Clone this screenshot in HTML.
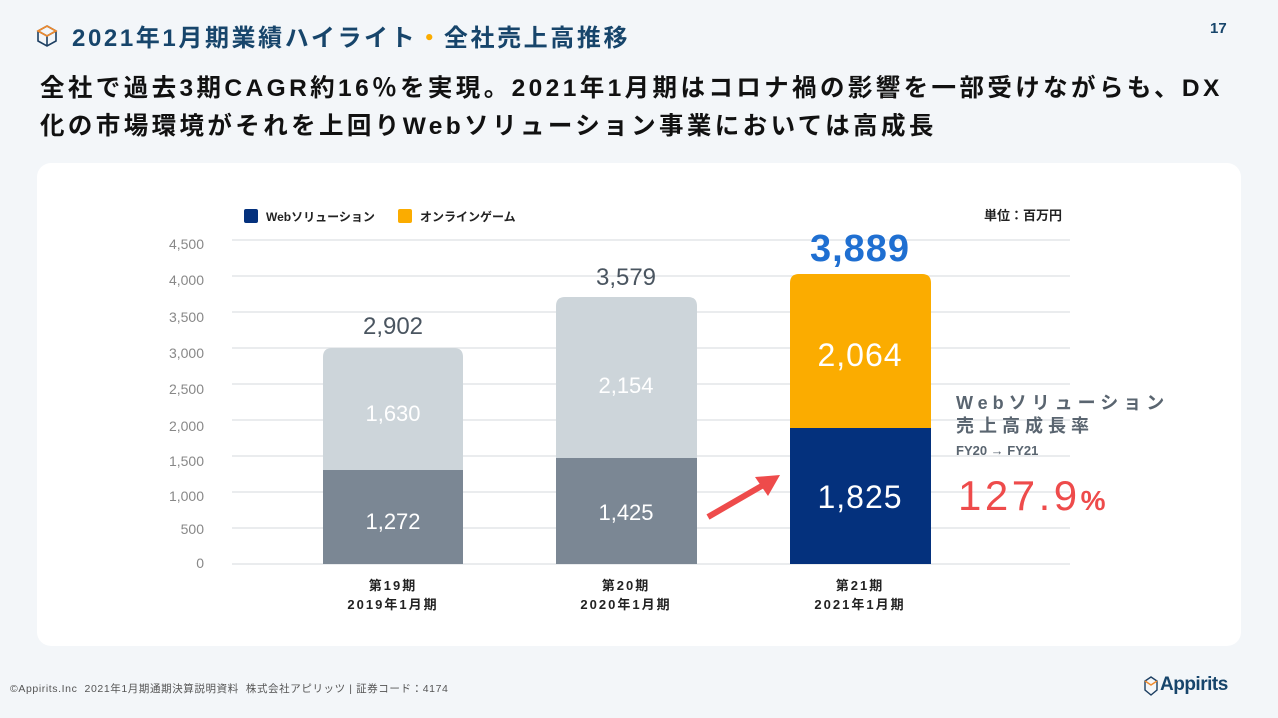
<!DOCTYPE html>
<html><head><meta charset="utf-8"><style>
body{margin:0;width:1278px;height:718px;background:#f3f6f9;font-family:"Liberation Sans","Noto Sans CJK JP",sans-serif;overflow:hidden;position:relative}
.t{position:absolute;white-space:nowrap}
</style></head><body>
<svg class="t" style="left:36px;top:24px" width="22" height="24" viewBox="0 0 22 24"><path d="M11 2 L20 7 L20 17 L11 22 L2 17 L2 7 Z" fill="none" stroke="#1d3f62" stroke-width="1.6"/><path d="M2 7 L11 12 L20 7 M11 12 L11 22" fill="none" stroke="#1d3f62" stroke-width="1.6"/><path d="M2 7 L11 2 L20 7 L11 12 Z" fill="none" stroke="#f08a2c" stroke-width="1.6"/></svg>
<div class="t" style="left:72px;top:18px;font-size:24px;font-weight:bold;color:#17456b;letter-spacing:2.6px">2021年1月期業績ハイライト<span style="color:#fbac00">・</span>全社売上高推移</div>
<div class="t" style="left:1210px;top:20px;font-size:15px;font-weight:bold;color:#17456b">17</div>
<div class="t" style="left:40px;top:70px;font-size:24.5px;font-weight:bold;color:#111;line-height:38px;letter-spacing:3.4px">全社で過去3期CAGR約16％を実現。2021年1月期はコロナ禍の影響を一部受けながらも、DX<br>化の市場環境がそれを上回りWebソリューション事業においては高成長</div>
<div class="t" style="left:37px;top:163px;width:1204px;height:483px;background:#fff;border-radius:14px"></div>
<svg class="t" style="left:0;top:0" width="1278" height="718">
<g stroke="#e3e6e9" stroke-width="1.5">
<line x1="232" x2="1070" y1="240" y2="240"/><line x1="232" x2="1070" y1="276" y2="276"/><line x1="232" x2="1070" y1="312" y2="312"/><line x1="232" x2="1070" y1="348" y2="348"/><line x1="232" x2="1070" y1="384" y2="384"/><line x1="232" x2="1070" y1="420" y2="420"/><line x1="232" x2="1070" y1="456" y2="456"/><line x1="232" x2="1070" y1="492" y2="492"/><line x1="232" x2="1070" y1="528" y2="528"/><line x1="232" x2="1070" y1="564" y2="564"/>
</g>
<g font-size="14" fill="#888" text-anchor="end" font-family="Liberation Sans,sans-serif">
<text x="204" y="249">4,500</text><text x="204" y="285">4,000</text><text x="204" y="322">3,500</text><text x="204" y="358">3,000</text><text x="204" y="394">2,500</text><text x="204" y="431">2,000</text><text x="204" y="466">1,500</text><text x="204" y="501">1,000</text><text x="204" y="534">500</text><text x="204" y="568">0</text>
</g>
<rect x="244" y="209" width="14" height="14" rx="2" fill="#04317d"/>
<text x="266" y="221" font-size="12" font-weight="bold" fill="#222">Webソリューション</text>
<rect x="398" y="209" width="14" height="14" rx="2" fill="#fbac00"/>
<text x="420" y="221" font-size="12" font-weight="bold" fill="#222">オンラインゲーム</text>
<text x="1062" y="220" font-size="13" font-weight="bold" fill="#222" text-anchor="end">単位：百万円</text>
<path d="M323 564 V470 H463 V564Z" fill="#7b8794"/><path d="M323 470 V357 Q323 348 332 348 H454 Q463 348 463 357 V470Z" fill="#cdd5da"/>
<path d="M556 564 V458 H697 V564Z" fill="#7b8794"/><path d="M556 458 V306 Q556 297 565 297 H688 Q697 297 697 306 V458Z" fill="#cdd5da"/>
<path d="M790 564 V428 H931 V564Z" fill="#04317d"/><path d="M790 428 V283 Q790 274 799 274 H922 Q931 274 931 283 V428Z" fill="#fbac00"/>
<g text-anchor="middle" fill="#fff" font-size="22">
<text x="393" y="529">1,272</text><text x="393" y="421">1,630</text>
<text x="626" y="520">1,425</text><text x="626" y="393">2,154</text>
<text x="860" y="508" font-size="32" letter-spacing="1">1,825</text><text x="860" y="366" font-size="32" letter-spacing="1">2,064</text>
</g>
<g text-anchor="middle" fill="#4a5560" font-size="24">
<text x="393" y="334">2,902</text><text x="626" y="285">3,579</text>
</g>
<text x="860" y="261" text-anchor="middle" fill="#1f6fd1" font-size="38" font-weight="bold" letter-spacing="1">3,889</text>
<line x1="708" y1="517" x2="765" y2="484" stroke="#ee4b4b" stroke-width="6"/>
<path d="M780 475 L755 477 L768 496Z" fill="#ee4b4b"/>
<g text-anchor="middle" font-size="13" font-weight="bold" fill="#222" letter-spacing="2">
<text x="393" y="590">第19期</text><text x="393" y="609">2019年1月期</text>
<text x="626" y="590">第20期</text><text x="626" y="609">2020年1月期</text>
<text x="860" y="590">第21期</text><text x="860" y="609">2021年1月期</text>
</g>
<text x="956" y="409" font-size="18" font-weight="bold" fill="#5a6570" letter-spacing="5">Webソリューション</text>
<text x="956" y="432" font-size="18" font-weight="bold" fill="#5a6570" letter-spacing="5">売上高成長率</text>
<text x="956" y="455" font-size="13" font-weight="bold" fill="#5a6570">FY20 → FY21</text>
<text x="958" y="510" font-size="42" fill="#ee4b4b" letter-spacing="3.5">127.9<tspan font-size="28" font-weight="bold">%</tspan></text>
</svg>
<div class="t" style="left:10px;top:681px;font-size:10.5px;color:#555;letter-spacing:0.6px">©Appirits.Inc&nbsp; 2021年1月期通期決算説明資料&nbsp; 株式会社アピリッツ | 証券コード：4174</div>
<svg class="t" style="left:1144px;top:676px" width="14" height="20" viewBox="0 0 14 20"><path d="M7 1 L13 5 L13 14 L7 19 L1 14 L1 5Z" fill="none" stroke="#1d3f62" stroke-width="1.4"/><path d="M1 5 L7 9 L13 5" fill="none" stroke="#f08a2c" stroke-width="1.4"/></svg>
<div class="t" style="left:1160px;top:674px;font-size:19px;font-weight:bold;color:#17456b;letter-spacing:-0.5px">Appirits</div>
</body></html>
